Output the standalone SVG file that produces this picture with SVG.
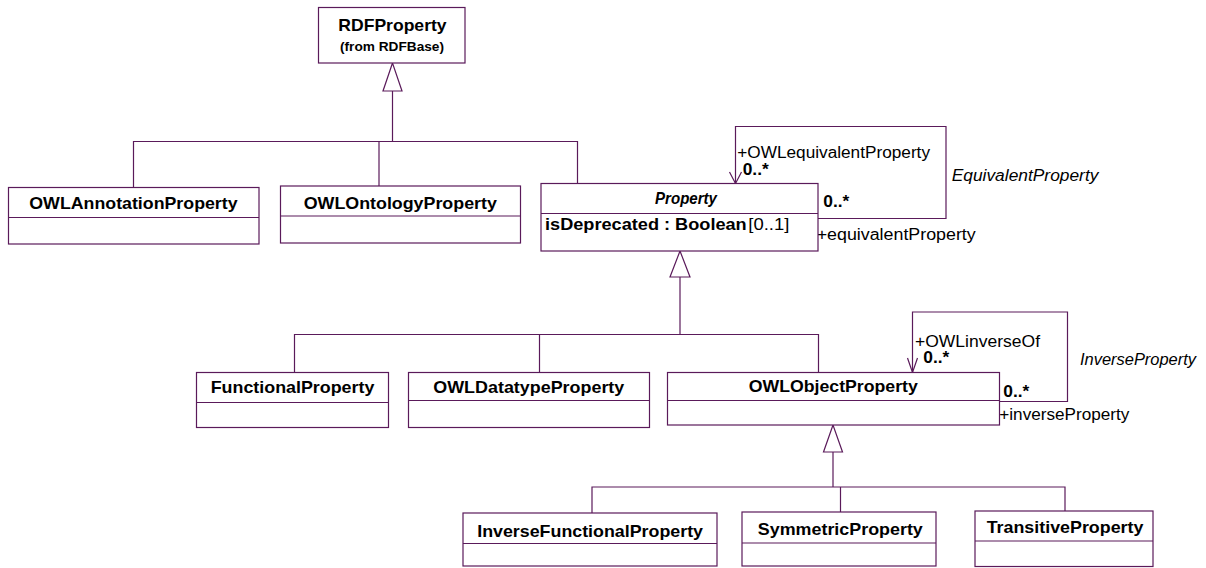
<svg xmlns="http://www.w3.org/2000/svg" width="1206" height="568" viewBox="0 0 1206 568">
<style>
.box{fill:#fff;stroke:#5a1a5a;stroke-width:1.2}
.ln{fill:none;stroke:#5a1a5a;stroke-width:1.2}
.tri{fill:#fff;stroke:#5a1a5a;stroke-width:1.2}
text{font-family:"Liberation Sans",Arial,sans-serif;fill:#000}
.cn{font-size:17px;font-weight:bold}
.sm{font-size:13px;font-weight:bold}
.lb{font-size:16px}
.it{font-size:16px;font-style:italic}
.mb{font-size:16px;font-weight:bold}
</style>
<rect width="1206" height="568" fill="#fff"/>
<g id="connectors">
  <polyline class="ln" points="392.5,91 392.5,141.5"/>
  <polyline class="ln" points="133.5,187.5 133.5,141.5 577.5,141.5 577.5,183.5"/>
  <polyline class="ln" points="379,141.5 379,186"/>
  <polygon class="tri" points="392.5,63 383,91 402,91"/>
  <polyline class="ln" points="680,277 680,334.5"/>
  <polyline class="ln" points="294.5,372.5 294.5,334.5 818.5,334.5 818.5,372.5"/>
  <polyline class="ln" points="539.5,334.5 539.5,372.5"/>
  <polygon class="tri" points="680,251 670,277 690,277"/>
  <polyline class="ln" points="833,452 833,487"/>
  <polyline class="ln" points="592,513 592,487 1065,487 1065,511"/>
  <polyline class="ln" points="840.5,487 840.5,512"/>
  <polygon class="tri" points="833,425 823.5,452 842.5,452"/>
  <polyline class="ln" points="818,218.5 946,218.5 946,126.5 735.5,126.5 735.5,183.5"/>
  <polyline class="ln" points="729.5,172 735.5,183.5 741.5,172"/>
  <polyline class="ln" points="999.5,401.5 1067.5,401.5 1067.5,312 912.5,312 912.5,372.5"/>
  <polyline class="ln" points="907.5,358 912.5,372.5 917.5,358"/>
  <text class="lb" x="737.3" y="158" textLength="192.7" lengthAdjust="spacingAndGlyphs">+OWLequivalentProperty</text>
  <text class="mb" x="742.7" y="175" textLength="26" lengthAdjust="spacingAndGlyphs">0..*</text>
  <text class="mb" x="823.3" y="207.3" textLength="26" lengthAdjust="spacingAndGlyphs">0..*</text>
  <text class="lb" x="816.7" y="240" textLength="159" lengthAdjust="spacingAndGlyphs">+equivalentProperty</text>
  <text class="it" x="951.7" y="180.7" textLength="146.7" lengthAdjust="spacingAndGlyphs">EquivalentProperty</text>
  <text class="lb" x="915" y="346.7" textLength="125" lengthAdjust="spacingAndGlyphs">+OWLinverseOf</text>
  <text class="mb" x="923.3" y="363.3" textLength="26" lengthAdjust="spacingAndGlyphs">0..*</text>
  <text class="it" x="1080" y="365" textLength="116" lengthAdjust="spacingAndGlyphs">InverseProperty</text>
  <text class="mb" x="1003.3" y="396.7" textLength="26" lengthAdjust="spacingAndGlyphs">0..*</text>
  <text class="lb" x="999.3" y="420" textLength="130" lengthAdjust="spacingAndGlyphs">+inverseProperty</text>
</g>
<g id="RDFProperty">
  <rect class="box" x="318.5" y="7.5" width="146.5" height="55.5"/>
  <text class="cn" x="338.3" y="30.7" textLength="108.3" lengthAdjust="spacingAndGlyphs">RDFProperty</text>
  <text class="sm" x="340" y="50.7" textLength="104" lengthAdjust="spacingAndGlyphs">(from RDFBase)</text>
</g>
<g id="OWLAnnotationProperty">
  <rect class="box" x="8.5" y="187.5" width="250.5" height="56.5"/>
  <line class="ln" x1="8.5" y1="217.5" x2="259" y2="217.5"/>
  <text class="cn" x="29.3" y="209" textLength="208.3" lengthAdjust="spacingAndGlyphs">OWLAnnotationProperty</text>
</g>
<g id="OWLOntologyProperty">
  <rect class="box" x="280.5" y="186" width="240" height="57"/>
  <line class="ln" x1="280.5" y1="216" x2="520.5" y2="216"/>
  <text class="cn" x="303.7" y="208.6" textLength="193.2" lengthAdjust="spacingAndGlyphs">OWLOntologyProperty</text>
</g>
<g id="Property">
  <rect class="box" x="541" y="183.5" width="277" height="67.5"/>
  <line class="ln" x1="541" y1="213.5" x2="818" y2="213.5"/>
  <text class="cn" x="655" y="204" font-style="italic" textLength="62" lengthAdjust="spacingAndGlyphs">Property</text>
  <text class="cn" x="545" y="230" textLength="201.7" lengthAdjust="spacingAndGlyphs">isDeprecated : Boolean</text>
  <text class="lb" x="748.3" y="230" font-size="17" textLength="41" lengthAdjust="spacingAndGlyphs">[0..1]</text>
</g>
<g id="FunctionalProperty">
  <rect class="box" x="196.5" y="372.5" width="192" height="55"/>
  <line class="ln" x1="196.5" y1="402.5" x2="388.5" y2="402.5"/>
  <text class="cn" x="210.7" y="393.3" textLength="163.7" lengthAdjust="spacingAndGlyphs">FunctionalProperty</text>
</g>
<g id="OWLDatatypeProperty">
  <rect class="box" x="408.5" y="372.5" width="241" height="55"/>
  <line class="ln" x1="408.5" y1="400.5" x2="649.5" y2="400.5"/>
  <text class="cn" x="433.3" y="393" textLength="191" lengthAdjust="spacingAndGlyphs">OWLDatatypeProperty</text>
</g>
<g id="OWLObjectProperty">
  <rect class="box" x="667.5" y="372.5" width="332" height="52.5"/>
  <line class="ln" x1="667.5" y1="400.5" x2="999.5" y2="400.5"/>
  <text class="cn" x="748.8" y="392" textLength="169" lengthAdjust="spacingAndGlyphs">OWLObjectProperty</text>
</g>
<g id="InverseFunctionalProperty">
  <rect class="box" x="463" y="513" width="254" height="53"/>
  <line class="ln" x1="463" y1="543.5" x2="717" y2="543.5"/>
  <text class="cn" x="477.2" y="536.5" textLength="225.8" lengthAdjust="spacingAndGlyphs">InverseFunctionalProperty</text>
</g>
<g id="SymmetricProperty">
  <rect class="box" x="742" y="512" width="194" height="54"/>
  <line class="ln" x1="742" y1="543" x2="936" y2="543"/>
  <text class="cn" x="757.8" y="535" textLength="165" lengthAdjust="spacingAndGlyphs">SymmetricProperty</text>
</g>
<g id="TransitiveProperty">
  <rect class="box" x="975" y="511" width="178" height="55.5"/>
  <line class="ln" x1="975" y1="541" x2="1153" y2="541"/>
  <text class="cn" x="986.7" y="532.7" textLength="156.7" lengthAdjust="spacingAndGlyphs">TransitiveProperty</text>
</g>
</svg>
